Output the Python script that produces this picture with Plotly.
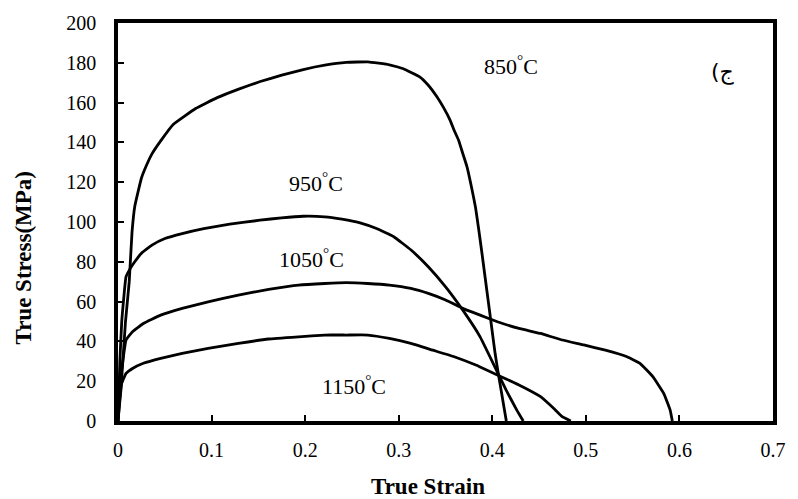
import plotly.graph_objects as go

# ---- data ----
strain_850 = [0, 0.003, 0.008, 0.012, 0.015, 0.018, 0.025, 0.03, 0.036, 0.046, 0.059, 0.083, 0.106, 0.129,
              0.152, 0.175, 0.198, 0.221, 0.244, 0.267, 0.290, 0.305, 0.3224, 0.3316, 0.341, 0.3478, 0.355,
              0.3593, 0.364, 0.3685, 0.373, 0.3777, 0.382, 0.3856, 0.389, 0.3925, 0.396, 0.3995, 0.403,
              0.4064, 0.410, 0.4124, 0.415]
stress_850 = [0, 15, 50, 70, 95, 108, 122, 128, 134, 141, 149, 157, 162.5, 166.8,
              170.6, 173.8, 176.6, 178.8, 180.2, 180.5, 179.0, 177.0, 172.9, 168.7, 162.8, 157.6, 151.1,
              146, 141.1, 134.4, 127.7, 117.7, 107.6, 95.9, 84.2, 71.6, 59.1, 46.5, 34,
              23.9, 13.9, 7.2, 0]

strain_950 = [0, 0.002, 0.004, 0.0086, 0.0132, 0.0179, 0.0248, 0.0363, 0.0502, 0.0686, 0.0917, 0.1194,
              0.1517, 0.1748, 0.1978, 0.2209, 0.2393, 0.2578, 0.2763, 0.2947, 0.3132, 0.3316, 0.3501,
              0.3685, 0.387, 0.4009, 0.4147, 0.4262, 0.4331]
stress_950 = [0, 30, 50, 72.5, 76.7, 80, 84.2, 88.4, 91.7, 94.2, 96.7, 98.9,
              100.9, 102.1, 102.9, 102.6, 101.4, 99.7, 96.7, 92.6, 85.9, 77.5, 67.4,
              55.7, 42.3, 29, 15.6, 5.5, 0]

strain_1050 = [0, 0.002, 0.004, 0.0086, 0.0155, 0.0271, 0.0456, 0.0686, 0.0963, 0.1286, 0.161, 0.193,
               0.2209, 0.244, 0.267, 0.290, 0.313, 0.3316, 0.3501, 0.3685, 0.387, 0.4055, 0.4285, 0.4516,
               0.4747, 0.4978, 0.5209, 0.544, 0.5578, 0.5716, 0.5832, 0.5901, 0.5924]
stress_1050 = [0, 18, 26, 40.7, 44.9, 49, 53.2, 56.6, 59.9, 63.3, 66.1, 68.3,
               69.1, 69.5, 69.1, 68.3, 66.6, 64.1, 60.8, 56.6, 53.2, 49.9, 46.5, 44,
               40.7, 38.2, 35.6, 32.3, 29, 22.3, 13.9, 5.5, 0]

strain_1150 = [0, 0.002, 0.004, 0.0086, 0.0155, 0.0271, 0.0456, 0.0686, 0.0963, 0.1286, 0.161, 0.193,
               0.2209, 0.244, 0.267, 0.290, 0.313, 0.3363, 0.3593, 0.3824, 0.4055, 0.4285, 0.4516,
               0.4655, 0.4747, 0.4839]
stress_1150 = [0, 12, 19, 23.9, 26.4, 29, 31.5, 34, 36.5, 39, 41.2, 42.3,
               43.2, 43.2, 43.2, 41.5, 39, 35.6, 32.3, 28.1, 23.1, 18.1, 12.2,
               6.4, 2.2, 0]

curve_labels = ["850<sup>°</sup>C", "950<sup>°</sup>C", "1050<sup>°</sup>C", "1150<sup>°</sup>C"]
label_x = [0.42, 0.2116, 0.2063, 0.2524]
label_y = [178.9, 120.2, 82.0, 18.3]

panel_label = "\u202Bج)\u202C"

x_ticks = [0, 0.1, 0.2, 0.3, 0.4, 0.5, 0.6, 0.7]
y_ticks = [0, 20, 40, 60, 80, 100, 120, 140, 160, 180, 200]

SERIF = "Liberation Serif, Times New Roman, serif"

fig = go.Figure()
for sx, sy, name in [(strain_850, stress_850, "850"), (strain_950, stress_950, "950"),
                     (strain_1050, stress_1050, "1050"), (strain_1150, stress_1150, "1150")]:
    fig.add_trace(go.Scatter(x=sx, y=sy, mode="lines", name=name,
                             line=dict(color="black", width=2.8, shape="spline", smoothing=0.3),
                             showlegend=False, hoverinfo="skip"))

for t, lx, ly in zip(curve_labels, label_x, label_y):
    fig.add_annotation(x=lx, y=ly, text=t, showarrow=False, xref="x", yref="y",
                       xanchor="center", yanchor="middle",
                       font=dict(family=SERIF, size=22, color="black"))

fig.add_annotation(x=0.6464, y=175.4, text=panel_label, showarrow=False, xref="x", yref="y",
                   xanchor="center", yanchor="middle",
                   font=dict(family="DejaVu Sans, sans-serif", size=22, color="black"))

# axis titles as annotations (they sit off-centre in the reference)
fig.add_annotation(x=0.473, y=-0.164, xref="paper", yref="paper", text="<b>True Strain</b>",
                   xanchor="center", yanchor="middle",
                   showarrow=False, font=dict(family=SERIF, size=23, color="black"))
fig.add_annotation(x=-0.144, y=0.41, xref="paper", yref="paper", text="<b>True Stress(MPa)</b>",
                   xanchor="center", yanchor="middle",
                   showarrow=False, textangle=-90, font=dict(family=SERIF, size=23, color="black"))

axis_common = dict(showline=True, linewidth=3.5, linecolor="black", mirror=True,
                   ticks="inside", ticklen=6, tickwidth=2, tickcolor="black",
                   showgrid=False, zeroline=False,
                   tickfont=dict(family=SERIF, size=20, color="black"))

fig.update_xaxes(range=[0, 0.7], tickvals=x_ticks, ticktext=[("0" if v == 0 else f"{v:g}") for v in x_ticks],
                 ticklabelstandoff=8, **axis_common)
fig.update_yaxes(range=[0, 200], tickvals=y_ticks, ticktext=[str(v) for v in y_ticks],
                 ticklabelstandoff=14, **axis_common)

fig.update_layout(width=798, height=499, margin=dict(l=118, r=20, t=23, b=78),
                  plot_bgcolor="white", paper_bgcolor="white")

fig.write_html("out.html", config={"displayModeBar": False},
               post_script="document.body.style.margin='0';")
